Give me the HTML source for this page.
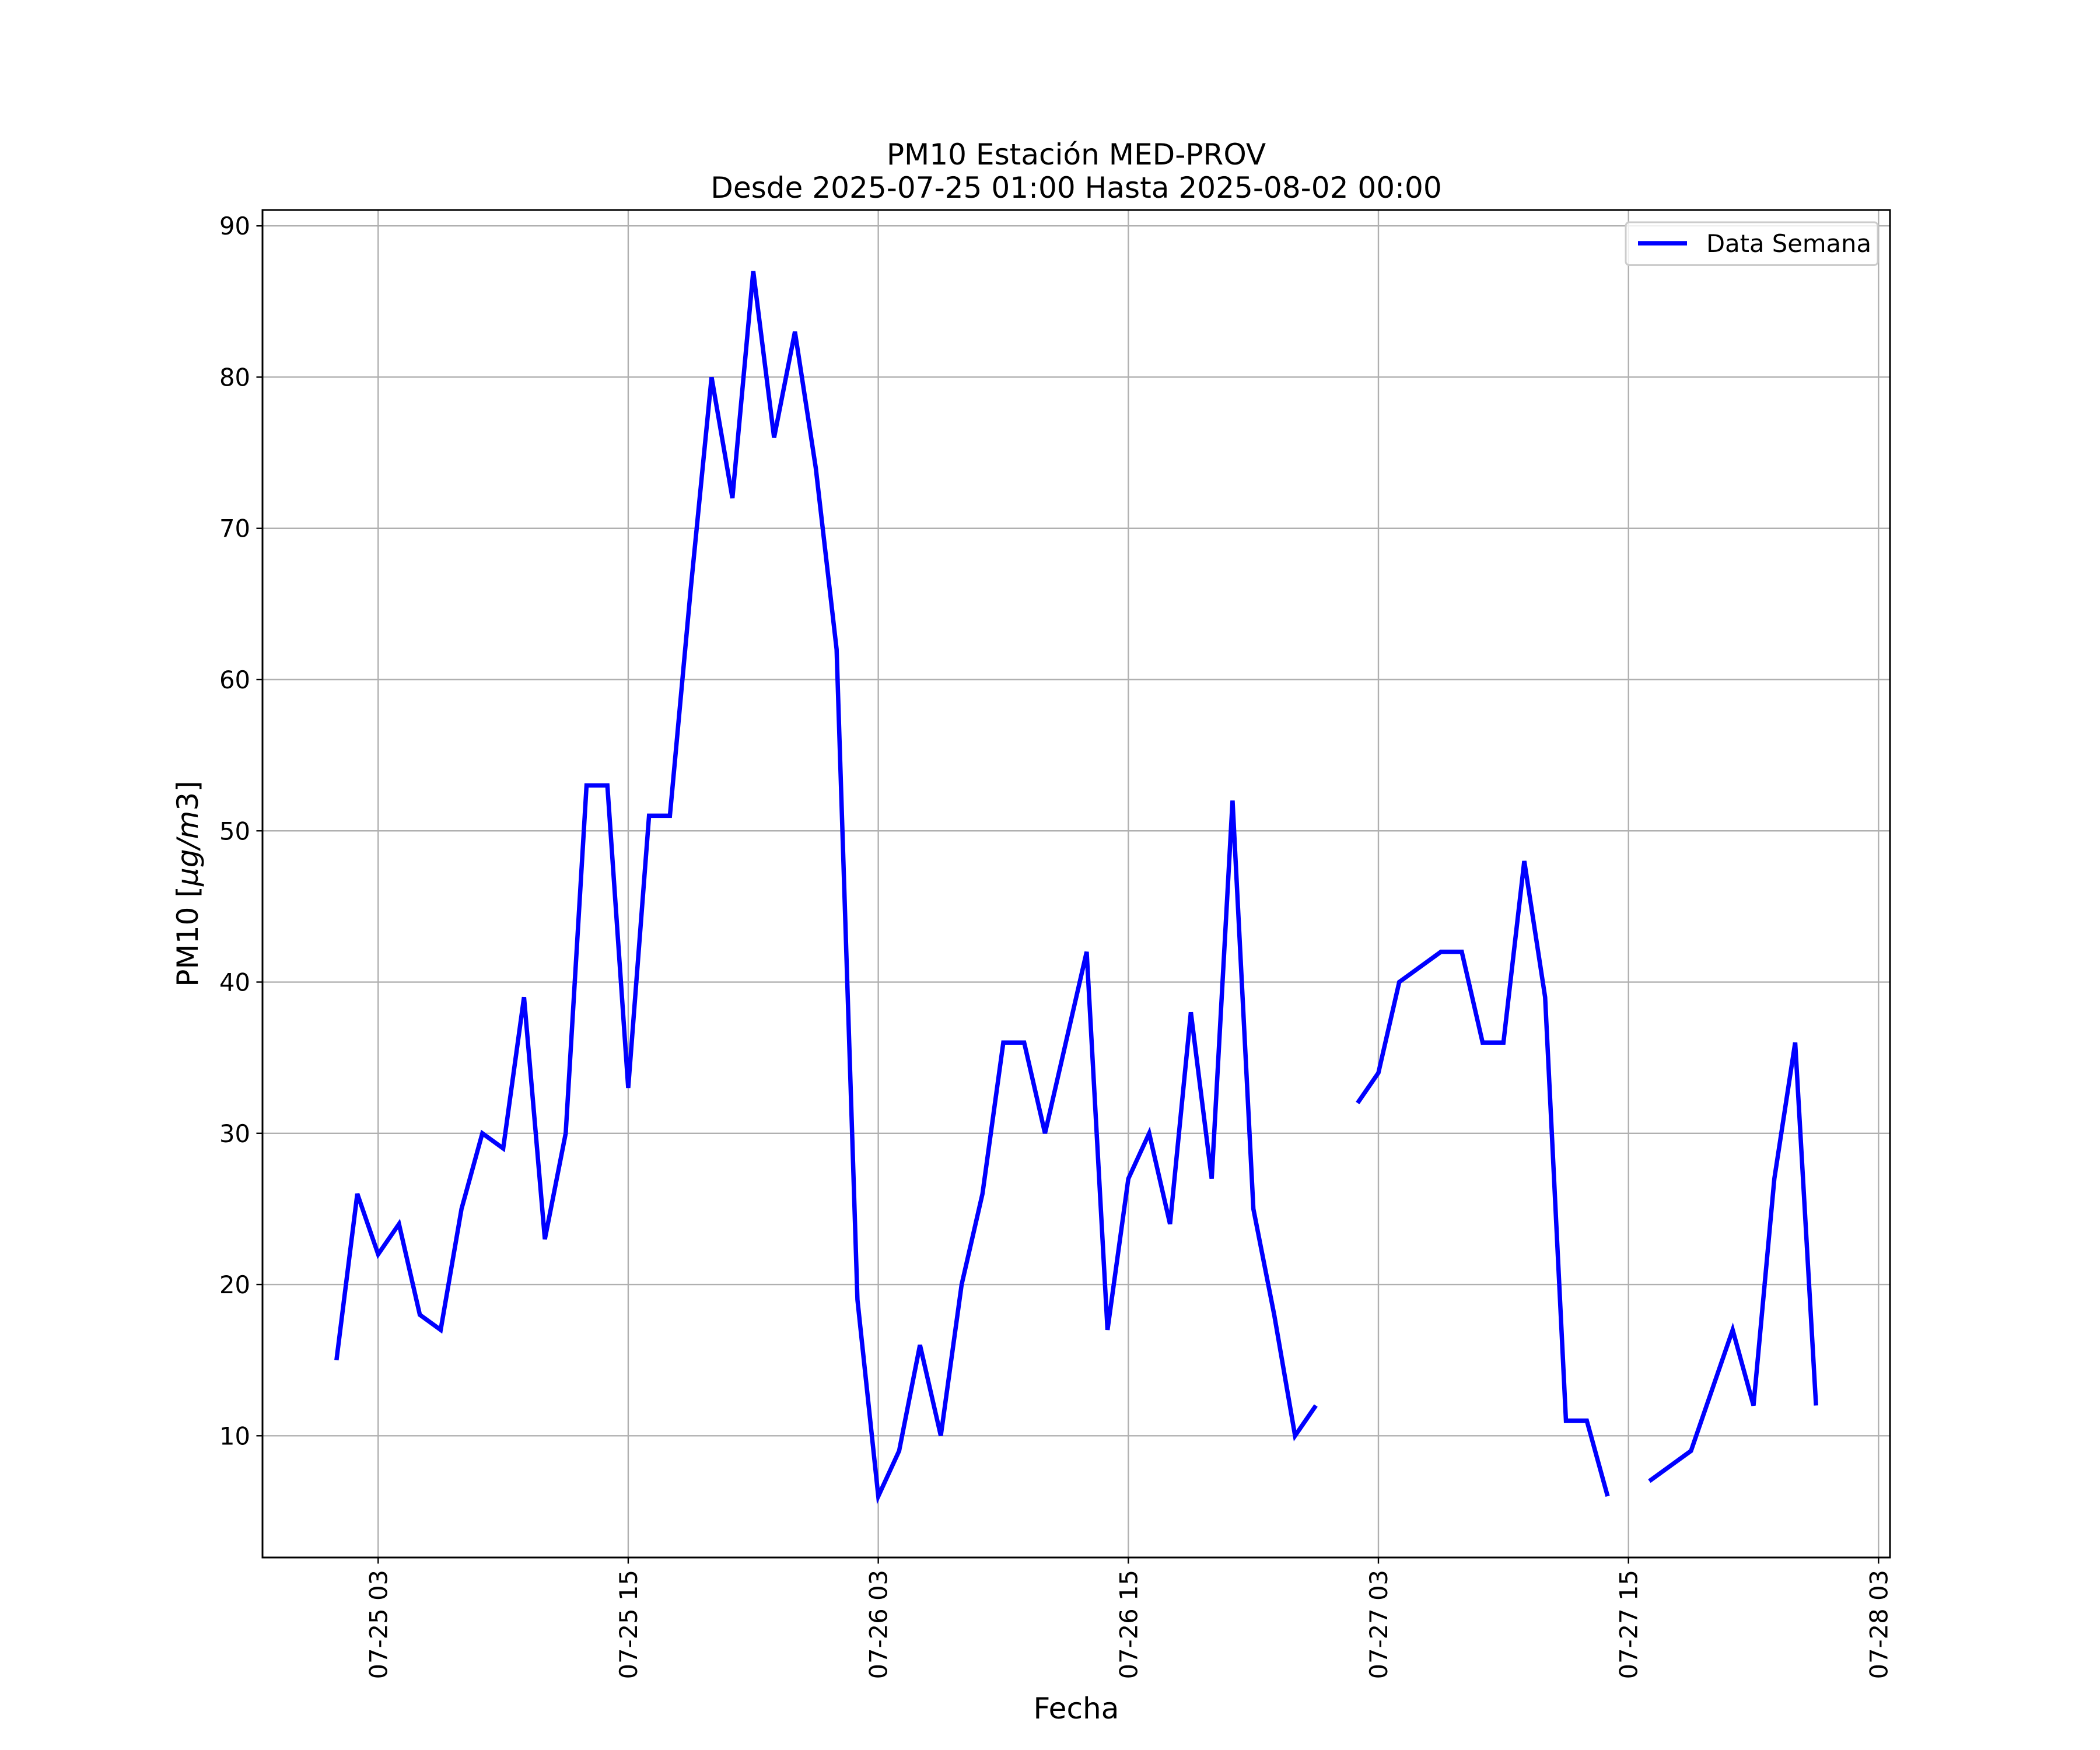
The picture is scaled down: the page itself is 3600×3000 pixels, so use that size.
<!DOCTYPE html>
<html><head><meta charset="utf-8"><style>
html,body{margin:0;padding:0;background:#fff;}
svg{display:block;font-family:"DejaVu Sans","Liberation Sans",sans-serif;}
</style></head><body>
<svg id="chart" width="3600" height="3000" viewBox="0 0 1200 1000" xmlns="http://www.w3.org/2000/svg">
<rect width="1200" height="1000" fill="#fff"/>
<g id="grid"></g>
<g id="series"></g>
<rect x="150" y="120" width="930" height="770" fill="none" stroke="#000" stroke-width="1"/>
<g id="ticks"></g>
<text x="615" y="94" font-size="16.7" text-anchor="middle">PM10 Estación MED-PROV</text>
<text x="615" y="113" font-size="16.7" text-anchor="middle">Desde 2025-07-25 01:00 Hasta 2025-08-02 00:00</text>
<text x="615" y="982" font-size="16.7" text-anchor="middle">Fecha</text>
<text transform="translate(113,505) rotate(-90)" font-size="16.7" text-anchor="middle">PM10 [<tspan font-style="italic">μg/m</tspan>3]</text>
<g>
<rect x="929" y="127" width="144" height="24.5" rx="2" fill="#fff" fill-opacity="0.8" stroke="#ccc" stroke-width="1"/>
<line x1="936" y1="139" x2="964" y2="139" stroke="#0000ff" stroke-width="2.5"/>
<text x="975" y="144" font-size="13.9">Data Semana</text>
</g>
</svg>
<script>
const hours = [];
for (let i = 0; i < 72; i++) hours.push(i);
const pm10 = [15,26,22,24,18,17,25,30,29,39,23,30,53,53,33,51,51,66,80,72,87,76,83,74,62,19,6,9,16,10,20,26,36,36,30,36,42,17,27,30,24,38,27,52,25,18,10,12,null,32,34,40,41,42,42,36,36,48,39,11,11,6,null,7,8,9,13,17,12,27,36,12];
const yTicks = [10,20,30,40,50,60,70,80,90];
const xTickHours = [2,14,26,38,50,62,74];
const xTickLabels = ["07-25 03","07-25 15","07-26 03","07-26 15","07-27 03","07-27 15","07-28 03"];

const X0=150,X1=1080,Y0=890,Y1=120;
const xMin=-3.55,xMax=74.55,yMin=1.95,yMax=91.05;
const sx=h=>X0+(h-xMin)/(xMax-xMin)*(X1-X0);
const sy=v=>Y0-(v-yMin)/(yMax-yMin)*(Y0-Y1);
const NS="http://www.w3.org/2000/svg";
const grid=document.getElementById('grid'),ticks=document.getElementById('ticks'),series=document.getElementById('series');
function mk(tag,attrs,parent){const e=document.createElementNS(NS,tag);for(const k in attrs)e.setAttribute(k,attrs[k]);parent.appendChild(e);return e;}

yTicks.forEach(v=>{
  const y=sy(v);
  const g=mk('line',{x1:X0,x2:X1,y1:y,y2:y,stroke:'#b0b0b0','stroke-width':0.8},grid);
  
  
  const t=mk('line',{x1:X0-3.5,x2:X0,y1:y,y2:y,stroke:'#000','stroke-width':0.8},ticks);
  
  
  const l=mk('text',{x:X0-7,y:y+5,'font-size':13.9,'text-anchor':'end'},ticks);
  l.textContent=v;
  
  
});
xTickHours.forEach((h,i)=>{
  const x=sx(h);
  const g=mk('line',{x1:x,x2:x,y1:Y1,y2:Y0,stroke:'#b0b0b0','stroke-width':0.8},grid);
  
  
  const t=mk('line',{x1:x,x2:x,y1:Y0,y2:Y0+3.5,stroke:'#000','stroke-width':0.8},ticks);
  
  
  const l=mk('text',{transform:`translate(${x+5},${Y0+7}) rotate(-90)`,'font-size':13.9,'text-anchor':'end'},ticks);
  l.textContent=xTickLabels[i];
  
  
});
let segs=[],cur=[];
pm10.forEach((v,i)=>{ if(v===null){ if(cur.length)segs.push(cur); cur=[]; } else cur.push([sx(hours[i]),sy(v)]); });
if(cur.length)segs.push(cur);
segs.forEach(s=>{
  const p=mk('polyline',{points:s.map(q=>q.join(',')).join(' '),fill:'none',stroke:'#0000ff','stroke-width':2.5,'stroke-linejoin':'miter','stroke-linecap':'butt'},series);
  
  
});
</script>
</body></html>
